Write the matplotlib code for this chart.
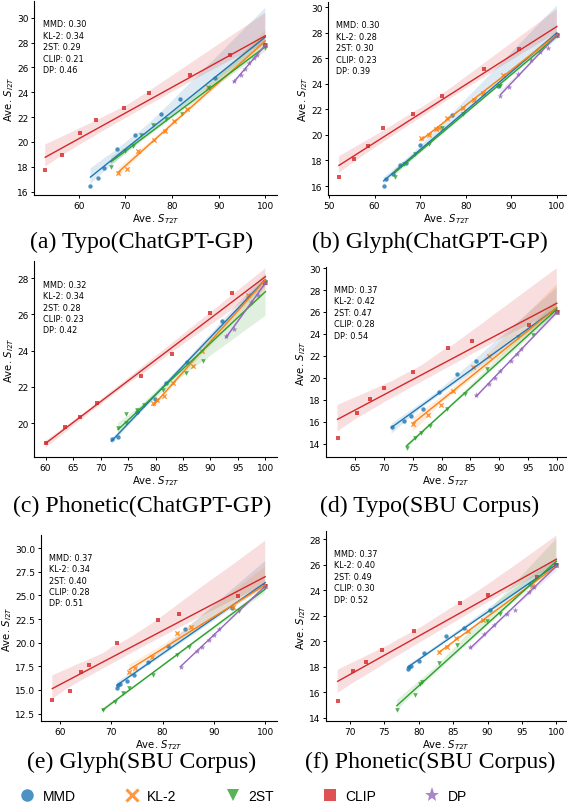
import matplotlib
matplotlib.use("Agg")
import matplotlib.pyplot as plt
import numpy as np
import seaborn as sns
from matplotlib.lines import Line2D

W, H = 567, 812

METHODS = ["MMD", "KL-2", "2ST", "CLIP", "DP"]
COLORS = {"MMD": "#1f77b4", "KL-2": "#ff7f0e", "2ST": "#2ca02c", "CLIP": "#d62728", "DP": "#9467bd"}
MARKERS = {"MMD": "o", "KL-2": "x", "2ST": "v", "CLIP": "s", "DP": "*"}
SIZES = {"MMD": 10, "KL-2": 10, "2ST": 11, "CLIP": 10, "DP": 20}

# ---- (a) Typo(ChatGPT-GP)
a_clip_x = [52.8, 56.5, 60.3, 63.8, 69.7, 75.1, 83.9, 92.5, 100]
a_clip_y = [17.74, 18.95, 20.74, 21.73, 22.77, 23.98, 25.37, 27.03, 27.78]
a_mmd_x = [62.5, 64.2, 65.4, 68.3, 72.0, 77.6, 81.6, 89.1, 100]
a_mmd_y = [16.46, 17.07, 17.88, 19.45, 20.58, 22.27, 23.44, 25.18, 27.78]
a_kl_x = [68.5, 70.3, 72.8, 76.2, 78.4, 80.5, 83.2, 87.8, 100]
a_kl_y = [17.47, 17.79, 19.27, 20.15, 20.87, 21.68, 22.69, 24.43, 27.78]
a_2st_x = [66.9, 70.0, 71.7, 73.3, 76.0, 78.6, 82.2, 88.0, 100]
a_2st_y = [17.96, 19.29, 19.67, 20.55, 21.35, 21.84, 22.29, 24.35, 27.6]
a_dp_x = [93.2, 94.8, 95.6, 96.5, 97.5, 98.2, 100]
a_dp_y = [24.89, 25.37, 25.85, 26.36, 26.76, 26.98, 27.78]
a_scores = [0.30, 0.34, 0.29, 0.21, 0.46]

# ---- (b) Glyph(ChatGPT-GP)
b_clip_x = [52.2, 55.5, 58.6, 61.9, 68.5, 74.8, 84.1, 91.8, 100]
b_clip_y = [16.73, 18.13, 19.10, 20.55, 21.65, 23.05, 25.16, 26.75, 27.79]
b_mmd_x = [62.0, 62.6, 64.0, 65.7, 66.8, 70.0, 77.1, 87.1, 100]
b_mmd_y = [16.0, 16.52, 16.91, 17.64, 17.80, 19.2, 21.54, 23.83, 27.84]
b_kl_x = [70.2, 72.0, 73.5, 74.2, 75.8, 79.3, 81.8, 83.8, 88.1, 100]
b_kl_y = [19.77, 19.96, 20.50, 20.53, 21.33, 22.09, 22.77, 23.29, 24.67, 27.84]
b_2st_x = [64.4, 66.5, 68.8, 72.0, 74.8, 79.5, 87.3, 87.6, 100]
b_2st_y = [16.68, 17.72, 18.47, 19.31, 20.58, 21.6, 23.83, 23.83, 27.74]
b_dp_x = [87.6, 89.4, 91.5, 94.4, 96.2, 98.0, 100]
b_dp_y = [23.05, 23.75, 24.74, 25.84, 26.49, 26.80, 27.84]
b_scores = [0.30, 0.28, 0.30, 0.23, 0.39]

# ---- (c) Phonetic(ChatGPT-GP)
c_clip_x = [60.0, 63.6, 66.3, 69.4, 77.4, 83.0, 90.0, 94.0, 100]
c_clip_y = [18.88, 19.81, 20.34, 21.12, 22.62, 23.83, 26.07, 27.18, 27.76]
c_mmd_x = [72.0, 73.1, 76.7, 79.9, 81.9, 85.8, 92.1, 100]
c_mmd_y = [19.1, 19.25, 20.62, 21.31, 22.21, 23.36, 25.66, 27.81]
c_kl_x = [79.6, 80.2, 81.5, 83.2, 86.8, 88.5, 96.8, 100]
c_kl_y = [21.1, 21.3, 21.5, 22.2, 23.18, 24.0, 27.07, 27.8]
c_2st_x = [73.2, 74.6, 74.7, 76.6, 77.9, 81.4, 85.6, 88.6, 100]
c_2st_y = [19.75, 20.0, 20.52, 20.7, 21.0, 21.85, 22.75, 23.42, 27.8]
c_dp_x = [92.8, 94.2, 97.4, 98.7, 100]
c_dp_y = [24.8, 25.2, 26.7, 27.1, 27.8]
c_scores = [0.32, 0.34, 0.28, 0.23, 0.42]

# ---- (d) Typo(SBU Corpus)
d_clip_x = [61.9, 65.2, 67.5, 69.9, 75.1, 81.1, 85.3, 95.1, 100]
d_clip_y = [14.52, 16.8, 18.11, 19.11, 20.51, 22.73, 23.37, 24.8, 25.96]
d_mmd_x = [71.3, 73.5, 74.6, 76.8, 79.5, 82.6, 85.9, 100]
d_mmd_y = [15.52, 16.04, 16.53, 17.2, 18.69, 20.39, 21.52, 25.96]
d_kl_x = [75.0, 77.7, 79.8, 82.0, 85.5, 88.3, 100]
d_kl_y = [15.83, 16.59, 17.56, 18.78, 21.0, 21.97, 25.96]
d_2st_x = [73.9, 75.3, 76.4, 77.9, 80.9, 84.1, 87.8, 93.3, 95.8, 100]
d_2st_y = [13.6, 14.52, 14.97, 15.58, 17.2, 18.53, 20.76, 23.68, 23.89, 25.96]
d_dp_x = [86.0, 88.2, 89.3, 90.1, 92.1, 93.0, 93.7, 100]
d_dp_y = [18.44, 19.42, 20.0, 20.61, 21.52, 22.16, 22.67, 25.96]
d_scores = [0.37, 0.42, 0.47, 0.28, 0.54]

# ---- (e) Glyph(SBU Corpus)
e_clip_x = [58.5, 61.9, 64.0, 65.7, 71.2, 79.2, 83.2, 94.7, 100]
e_clip_y = [13.94, 14.9, 16.94, 17.61, 19.98, 22.41, 23.01, 24.88, 25.94]
e_mmd_x = [71.1, 71.4, 71.7, 73.0, 74.4, 77.2, 81.0, 84.3, 93.6, 100]
e_mmd_y = [15.22, 15.5, 15.6, 15.99, 16.56, 17.97, 19.66, 21.46, 23.68, 25.94]
e_kl_x = [73.5, 74.6, 77.9, 82.8, 85.5, 93.8, 100]
e_kl_y = [16.91, 17.3, 18.5, 20.97, 21.64, 23.72, 25.94]
e_2st_x = [68.3, 70.7, 72.2, 73.5, 78.1, 82.9, 85.2, 94.9, 100]
e_2st_y = [12.89, 13.7, 14.65, 15.25, 16.59, 18.71, 19.59, 23.37, 25.94]
e_dp_x = [83.5, 86.7, 87.6, 89.1, 90.1, 91.0, 100]
e_dp_y = [17.44, 19.13, 19.59, 20.33, 20.86, 21.43, 25.94]
e_scores = [0.37, 0.34, 0.40, 0.28, 0.51]

# ---- (f) Phonetic(SBU Corpus)
f_clip_x = [68.2, 70.4, 72.3, 74.7, 79.3, 86.0, 90.1, 97.2, 100]
f_clip_y = [15.32, 17.66, 18.38, 19.31, 20.79, 23.02, 23.64, 25.04, 26.0]
f_mmd_x = [78.4, 78.6, 78.8, 80.0, 80.8, 83.9, 86.5, 90.4, 96.2, 100]
f_mmd_y = [17.81, 17.94, 18.02, 18.48, 19.06, 20.4, 21.0, 22.43, 24.5, 26.0]
f_kl_x = [83.0, 84.1, 85.4, 87.2, 89.4, 96.5, 100]
f_kl_y = [19.13, 19.57, 20.22, 20.79, 21.7, 24.37, 26.0]
f_2st_x = [76.8, 79.4, 80.1, 80.4, 82.9, 85.6, 89.9, 91.8, 100]
f_2st_y = [14.57, 15.76, 16.67, 16.77, 18.33, 19.7, 21.57, 22.11, 26.0]
f_dp_x = [87.5, 89.5, 91.0, 92.8, 94.0, 96.0, 96.8, 100]
f_dp_y = [19.55, 20.56, 21.26, 22.17, 22.48, 23.85, 24.29, 26.0]
f_scores = [0.37, 0.40, 0.49, 0.30, 0.52]

panels = [
    ("(a) Typo(ChatGPT-GP)", {"MMD": (a_mmd_x, a_mmd_y), "KL-2": (a_kl_x, a_kl_y), "2ST": (a_2st_x, a_2st_y),
                              "CLIP": (a_clip_x, a_clip_y), "DP": (a_dp_x, a_dp_y)}, a_scores,
     [34, 2, 277, 196], (50.4, 102.5), (15.73, 31.35), [60, 70, 80, 90, 100], [16, 18, 20, 22, 24, 26, 28, 30], (142, 242)),
    ("(b) Glyph(ChatGPT-GP)", {"MMD": (b_mmd_x, b_mmd_y), "KL-2": (b_kl_x, b_kl_y), "2ST": (b_2st_x, b_2st_y),
                               "CLIP": (b_clip_x, b_clip_y), "DP": (b_dp_x, b_dp_y)}, b_scores,
     [328, 3, 566, 196], (49.8, 102.0), (15.3, 30.4), [50, 60, 70, 80, 90, 100], [16, 18, 20, 22, 24, 26, 28, 30], (430, 242)),
    ("(c) Phonetic(ChatGPT-GP)", {"MMD": (c_mmd_x, c_mmd_y), "KL-2": (c_kl_x, c_kl_y), "2ST": (c_2st_x, c_2st_y),
                                  "CLIP": (c_clip_x, c_clip_y), "DP": (c_dp_x, c_dp_y)}, c_scores,
     [34, 262, 277, 458], (57.9, 102.1), (18.13, 28.95), [60, 65, 70, 75, 80, 85, 90, 95, 100], [20, 22, 24, 26, 28], (142, 506)),
    ("(d) Typo(SBU Corpus)", {"MMD": (d_mmd_x, d_mmd_y), "KL-2": (d_kl_x, d_kl_y), "2ST": (d_2st_x, d_2st_y),
                              "CLIP": (d_clip_x, d_clip_y), "DP": (d_dp_x, d_dp_y)}, d_scores,
     [326, 268, 566, 458], (59.9, 101.6), (12.78, 30.1), [65, 70, 75, 80, 85, 90, 95, 100], [14, 16, 18, 20, 22, 24, 26, 28, 30], (430, 506)),
    ("(e) Glyph(SBU Corpus)", {"MMD": (e_mmd_x, e_mmd_y), "KL-2": (e_kl_x, e_kl_y), "2ST": (e_2st_x, e_2st_y),
                               "CLIP": (e_clip_x, e_clip_y), "DP": (e_dp_x, e_dp_y)}, e_scores,
     [41, 536, 277, 722], (56.3, 102.3), (11.72, 31.38), [60, 70, 80, 90, 100], [12.5, 15.0, 17.5, 20.0, 22.5, 25.0, 27.5, 30.0], (142, 762)),
    ("(f) Phonetic(SBU Corpus)", {"MMD": (f_mmd_x, f_mmd_y), "KL-2": (f_kl_x, f_kl_y), "2ST": (f_2st_x, f_2st_y),
                                  "CLIP": (f_clip_x, f_clip_y), "DP": (f_dp_x, f_dp_y)}, f_scores,
     [326, 532, 566, 722], (66.5, 101.4), (13.74, 28.65), [70, 75, 80, 85, 90, 95, 100], [14, 16, 18, 20, 22, 24, 26, 28], (430, 762)),
]

fig = plt.figure(figsize=(W / 100, H / 100), dpi=100)

for caption, series, scores, box, xlim, ylim, xt, yt, cap_pos in panels:
    l, t, r, b = box
    ax = fig.add_axes([l / W, 1 - b / H, (r - l) / W, (b - t) / H])
    for m in METHODS:
        xs, ys = series[m]
        sns.regplot(x=np.array(xs), y=np.array(ys), ax=ax, color=COLORS[m], marker=MARKERS[m],
                    ci=95, seed=0, scatter_kws={"s": SIZES[m], "linewidths": 1.0 if m == "KL-2" else 0},
                    line_kws={"linewidth": 1.0})
    ax.set_xlim(*xlim)
    ax.set_ylim(*ylim)
    ax.set_xticks(xt)
    ax.set_yticks(yt)
    if isinstance(yt[0], float):
        ax.set_yticklabels([f"{v:.1f}" for v in yt])
    ax.tick_params(labelsize=6.5, length=2.5, width=0.7, pad=1.5)
    ax.spines["top"].set_visible(False)
    ax.spines["right"].set_visible(False)
    ax.set_xlabel("Ave. $S_{T2T}$", fontsize=7.3, labelpad=1)
    ax.set_ylabel("Ave. $S_{I2T}$", fontsize=7.3, labelpad=1)
    txt = "\n".join(f"{m}: {s:.2f}" for m, s in zip(METHODS, scores))
    ax.text(0.035, 0.905, txt, transform=ax.transAxes, fontsize=5.9, va="top", ha="left", linespacing=1.35)
    fig.text(cap_pos[0] / W, 1 - cap_pos[1] / H, caption, ha="center", va="center",
             fontsize=17.2, family="Liberation Serif")

handles = [Line2D([], [], linestyle="none", marker=MARKERS[m], color=COLORS[m], alpha=0.8,
                  markersize=9 if m != "DP" else 11, markeredgewidth=2.2 if m == "KL-2" else 0,
                  label=m) for m in METHODS]
fig.legend(handles=handles, loc="center left", bbox_to_anchor=(19 / W, 1 - 797 / H), ncol=5, frameon=False,
           prop={"family": "Liberation Sans", "size": 10}, columnspacing=3.45, handletextpad=0.5,
           handlelength=1.2, borderaxespad=0, borderpad=0)

fig.savefig("out.png", dpi=100)
